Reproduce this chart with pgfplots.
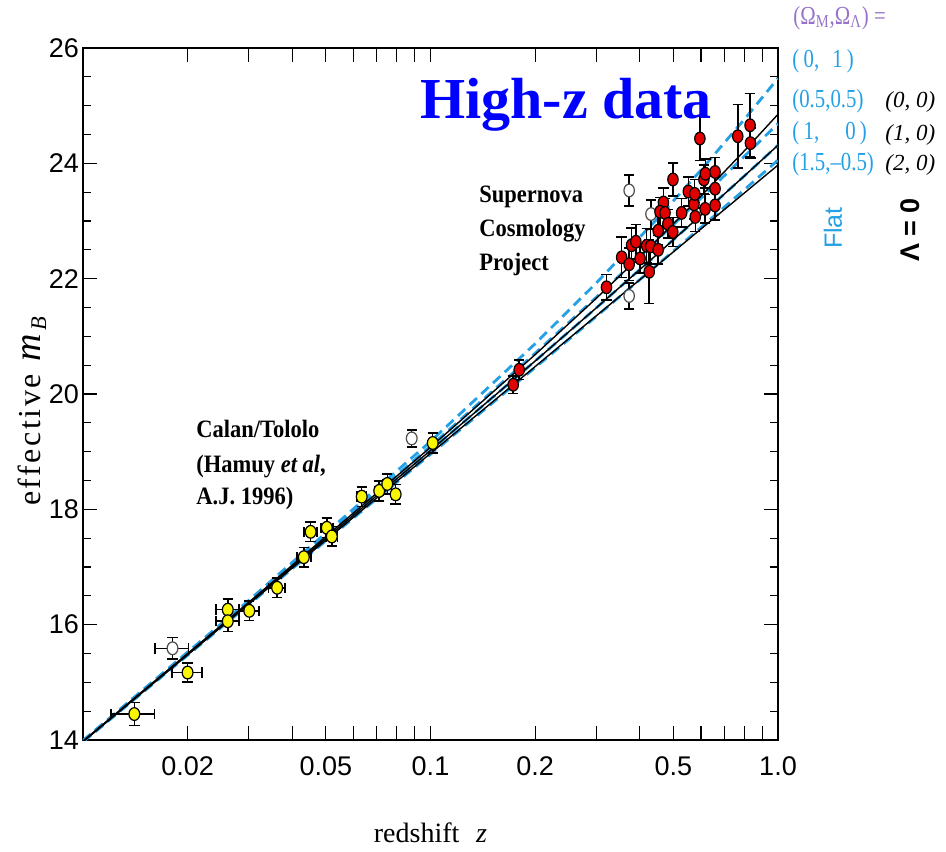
\documentclass[border=0pt]{standalone}
\usepackage{fontspec}
\setmainfont{Liberation Serif}
\newfontfamily\ticksans{Liberation Sans}
\newfontfamily\condserif[FakeStretch=0.8]{Liberation Serif}
\newfontfamily\condbold[FakeStretch=0.9]{Liberation Serif}
\newfontfamily\spaced[LetterSpace=8]{Liberation Serif}
\usepackage{pgfplots}
\pgfplotsset{compat=1.18}
\usepackage{pgfplotstable}
\definecolor{flatblue}{RGB}{35,160,230}
\definecolor{hdrpurple}{RGB}{150,115,200}
\definecolor{snred}{RGB}{225,0,0}
\definecolor{snyellow}{RGB}{250,245,0}

% theoretical curves: a=(0,1) b=(0.5,0.5) c=(1,0) d=(1.5,-0.5) e=(0,0) f=(2,0)
\pgfplotstableread{
z a b c d e f
0.01 13.992 13.984 13.975 13.967 13.981 13.970
0.03 16.420 16.395 16.372 16.348 16.388 16.356
0.1 19.177 19.095 19.021 18.954 19.076 18.970
0.2 20.871 20.706 20.571 20.458 20.682 20.475
0.3 21.925 21.678 21.493 21.345 21.659 21.356
0.45 23.043 22.673 22.428 22.242 22.677 22.236
0.6 23.881 23.393 23.101 22.887 23.430 22.861
0.8 24.762 24.121 23.781 23.542 24.216 23.485
1.0 25.475 24.690 24.314 24.056 24.851 23.970
}\curves

\pgfplotstableread{
z m ex ey
0.01405 14.45 0.002 0.20
0.0200 15.17 0.002 0.17
0.0261 16.26 0.002 0.18
0.0261 16.06 0.002 0.18
0.0301 16.24 0.002 0.17
0.0362 16.64 0.002 0.17
0.0432 17.17 0.002 0.17
0.0452 17.61 0.002 0.17
0.0503 17.68 0.002 0.17
0.0520 17.53 0.002 0.17
0.0634 18.22 0.002 0.17
0.0712 18.32 0.002 0.17
0.0751 18.44 0.002 0.17
0.0794 18.26 0.002 0.17
0.1015 19.15 0.002 0.17
}\ctdata

\pgfplotstableread{
z m ex ey
0.0181 15.59 0.002 0.19
0.0883 19.23 0.001 0.15
}\ctopen

\pgfplotstableread{
z m ey
0.173 20.16 0.15
0.180 20.42 0.17
0.321 21.85 0.22
0.355 22.37 0.35
0.373 22.25 0.28
0.379 22.58 0.30
0.390 22.64 0.30
0.401 22.35 0.25
0.419 22.57 0.30
0.430 22.56 0.30
0.426 22.12 0.55
0.452 22.50 0.25
0.452 22.83 0.25
0.468 23.32 0.25
0.4575 23.16 0.25
0.473 23.14 0.25
0.482 22.95 0.25
0.498 22.81 0.25
0.4985 23.72 0.29
0.528 23.14 0.25
0.552 23.51 0.25
0.573 23.29 0.25
0.576 23.47 0.25
0.578 23.07 0.25
0.596 24.43 0.38
0.612 23.72 0.25
0.618 23.82 0.25
0.617 23.21 0.25
0.659 23.85 0.25
0.659 23.56 0.25
0.659 23.27 0.25
0.766 24.47 0.55
0.831 24.66 0.55
0.833 24.35 0.26
}\scpdata

\pgfplotstableread{
z m ey
0.373 23.53 0.27
0.373 21.70 0.23
0.431 23.12 0.25
}\scpopen

\begin{document}
\begin{tikzpicture}
\path[use as bounding box] (-41.5pt,-55.5pt) rectangle (431.5pt,370pt);
\begin{axis}[
  at={(0pt,0pt)}, anchor=south west,
  scale only axis, width=347.5pt, height=346pt,
  xmode=log, xmin=0.01, xmax=1, ymin=14, ymax=26,
  xtick={0.02,0.05,0.1,0.2,0.5,1},
  xticklabels={0.02,0.05,0.1,0.2,0.5,1.0},
  extra x ticks={0.03,0.04,0.06,0.07,0.08,0.09,0.3,0.4,0.6,0.7,0.8,0.9},
  extra x tick labels={},
  ytick={14,16,18,20,22,24,26},
  yticklabels={14,16,18,20,22,24,26},
  minor ytick={14.5,15,15.5,16.5,17,17.5,18.5,19,19.5,20.5,21,21.5,22.5,23,23.5,24.5,25,25.5},
  xtick pos=both, ytick pos=both,
  xticklabel pos=lower, yticklabel pos=left,
  tick align=inside,
  major tick length=7pt, minor tick length=4pt,
  tick style={black, line width=0.6pt},
  axis line style={line width=0.75pt},
  ticklabel style={font=\ticksans\fontsize{13.5}{14}\selectfont},
  xticklabel style={yshift=-5pt},
  yticklabel style={xshift=1.5pt},
]
\addplot[flatblue, line width=1.4pt, dash pattern=on 5pt off 3pt] table[x=z,y=a]{\curves};
\addplot[flatblue, line width=1.4pt, dash pattern=on 5pt off 3pt] table[x=z,y=b]{\curves};
\addplot[flatblue, line width=1.4pt, dash pattern=on 5pt off 3pt] table[x=z,y=c]{\curves};
\addplot[flatblue, line width=1.4pt, dash pattern=on 5pt off 3pt] table[x=z,y=d]{\curves};
\addplot[black, line width=0.7pt] table[x=z,y=e]{\curves};
\addplot[black, line width=0.7pt] table[x=z,y=c]{\curves};
\addplot[black, line width=0.7pt] table[x=z,y=f]{\curves};

\addplot[only marks, mark=*, mark size=2.7pt,
  mark options={fill=white, draw=black!70, line width=0.6pt, yscale=1.18},
  error bars/.cd, x dir=both, x explicit, y dir=both, y explicit,
  error bar style={black, line width=0.75pt},
  error mark options={rotate=90, mark size=2.6pt, line width=0.85pt, black}]
  table[x=z, y=m, x error=ex, y error=ey]{\ctopen};
\addplot[only marks, mark=*, mark size=2.7pt,
  mark options={fill=snyellow, draw=black, line width=0.6pt, yscale=1.18},
  error bars/.cd, x dir=both, x explicit, y dir=both, y explicit,
  error bar style={black, line width=0.75pt},
  error mark options={rotate=90, mark size=2.6pt, line width=0.85pt, black}]
  table[x=z, y=m, x error=ex, y error=ey]{\ctdata};
\addplot[only marks, mark=*, mark size=2.6pt,
  mark options={fill=white, draw=black!70, line width=0.6pt, yscale=1.22},
  error bars/.cd, y dir=both, y explicit,
  error bar style={black, line width=0.75pt},
  error mark options={rotate=90, mark size=2.6pt, line width=0.85pt, black}]
  table[x=z, y=m, y error=ey]{\scpopen};
\addplot[only marks, mark=*, mark size=2.6pt,
  mark options={fill=snred, draw=black, line width=0.6pt, yscale=1.22},
  error bars/.cd, y dir=both, y explicit,
  error bar style={black, line width=0.75pt},
  error mark options={rotate=90, mark size=2.6pt, line width=0.85pt, black}]
  table[x=z, y=m, y error=ey]{\scpdata};
\end{axis}

% axis labels
\node[anchor=base, font=\fontsize{14}{14}\selectfont] at (173.75pt,-51pt) {redshift\hspace{0.6em}\textit{z}};
\node[rotate=90, anchor=base, font=\fontsize{16}{16}\selectfont] at (-21pt,165pt) {\spaced effective\hspace{0.4em}{\fontsize{19}{19}\selectfont\textit{m}}\textsubscript{\textit{B}}};

% annotations
\node[anchor=base west, inner sep=0pt, text=blue, font=\fontsize{29}{30}\selectfont\bfseries] at (168.5pt,310.5pt) {High-z data};
\node[anchor=base west, inner sep=0pt, font=\condbold\bfseries\fontsize{12.5}{14}\selectfont] at (198pt,268.5pt) {Supernova};
\node[anchor=base west, inner sep=0pt, font=\condbold\bfseries\fontsize{12.5}{14}\selectfont] at (198pt,251.5pt) {Cosmology};
\node[anchor=base west, inner sep=0pt, font=\condbold\bfseries\fontsize{12.5}{14}\selectfont] at (198pt,234.5pt) {Project};
\node[anchor=base west, inner sep=0pt, font=\condbold\bfseries\fontsize{12.5}{14}\selectfont] at (56.5pt,151pt) {Calan/Tololo};
\node[anchor=base west, inner sep=0pt, font=\condbold\bfseries\fontsize{12.5}{14}\selectfont] at (56.5pt,133.5pt) {(Hamuy \textit{et al},};
\node[anchor=base west, inner sep=0pt, font=\condbold\bfseries\fontsize{12.5}{14}\selectfont] at (56.5pt,117.5pt) {A.J. 1996)};

% right-hand key
\node[anchor=west, inner sep=0pt, text=hdrpurple, font=\condserif\fontsize{13}{14}\selectfont] at (355pt,361pt) {(Ω\textsubscript{M},Ω\textsubscript{Λ}) =};
\node[anchor=west, inner sep=0pt, text=flatblue, font=\condserif\fontsize{13}{14}\selectfont] at (354.5pt,339.5pt) {(\,0,\enspace1\,)};
\node[anchor=west, inner sep=0pt, text=flatblue, font=\condserif\fontsize{13}{14}\selectfont] at (354.5pt,319.5pt) {(0.5,0.5)};
\node[anchor=west, inner sep=0pt, text=flatblue, font=\condserif\fontsize{13}{14}\selectfont] at (354.5pt,303.25pt) {(\,1,\quad0\,)};
\node[anchor=west, inner sep=0pt, text=flatblue, font=\condserif\fontsize{13}{14}\selectfont] at (354.5pt,287.75pt) {(1.5,–0.5)};
\node[anchor=west, inner sep=0pt, font=\itshape\fontsize{11.5}{12}\selectfont] at (401pt,319pt) {(0, 0)};
\node[anchor=west, inner sep=0pt, font=\itshape\fontsize{11.5}{12}\selectfont] at (401pt,302.5pt) {(1, 0)};
\node[anchor=west, inner sep=0pt, font=\itshape\fontsize{11.5}{12}\selectfont] at (401pt,287.5pt) {(2, 0)};
\node[rotate=90, text=flatblue, font=\ticksans\fontsize{12.5}{12}\selectfont] at (375pt,256pt) {Flat};
\node[rotate=90, font=\ticksans\bfseries\fontsize{13.5}{14}\selectfont] at (413.5pt,255pt) {Λ = 0};
\end{tikzpicture}
\end{document}
